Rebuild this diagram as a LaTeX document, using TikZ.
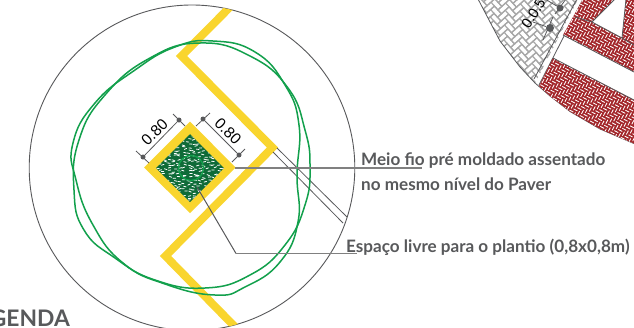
\documentclass[tikz,border=0pt]{standalone}
\usepackage{fontspec}
\setmainfont{Lato}
\newfontfamily\dimfont{Liberation Sans}
\definecolor{ink}{HTML}{58595B}
\definecolor{leader}{HTML}{808080}
\definecolor{curb}{HTML}{F9D52E}
\definecolor{leaf}{HTML}{12A04C}
\definecolor{soil}{HTML}{0F6B38}
\definecolor{brick}{HTML}{A3262A}
\definecolor{stone}{HTML}{A8A8A8}
\tikzset{
  outline/.style={draw=ink,line width=0.9pt},
  leaderline/.style={draw=leader,line width=1.4pt},
  leaderthin/.style={draw=ink,line width=1pt},
  yellowband/.style={draw=curb,line width=8pt,miter limit=10},
  canopy/.style={draw=leaf,line width=1.5pt},
  dimline/.style={draw=ink,line width=0.8pt},
  dimdot/.style={circle,fill=ink,inner sep=0pt,minimum size=5pt},
  dimtext/.style={font=\dimfont\fontsize{15.5}{15.5}\selectfont,inner sep=0pt,text=black},
  label/.style={font=\bfseries\fontsize{17.1}{17.1}\selectfont,text=ink,inner sep=0pt,anchor=base west},
  edge/.style={draw=ink,line width=0.8pt}
}
\begin{document}
\begin{tikzpicture}[x=1pt,y=-1pt]
\useasboundingbox (0,0) rectangle (634,327);
\clip (0,0) rectangle (634,327);
\fill[white] (0,0) rectangle (634,327);

% ---- paver detail, top right
\begin{scope}
  \clip (478,-1) -- (500,41) -- (520,67) -- (535,83) -- (578,-1) -- cycle;
  \begin{scope}[shift={(530,30)},rotate=42,x=5.2pt,y=5.2pt]
    \foreach \i in {-12,...,12}{\foreach \j in {-6,...,6}{
      \draw[stone,line width=1.2pt] ({\i+2*\j},{\i-2*\j}) rectangle ++(2,1)
        ({\i+2*\j+2},{\i-2*\j-1}) rectangle ++(1,2);
    }}
  \end{scope}
\end{scope}
\draw[edge] (478,-1) -- (500,41) -- (520,67) -- (535,83) -- (550,96) -- (570,111.5) -- (600,129) -- (634,143.6);
\draw[edge] (534,79) -- (577,-1);
\draw[edge] (539,85) -- (583,-1);

\begin{scope}
  \clip (539,86) -- (553,58) -- (634,100) -- (634,143.6) -- (600,129) -- (570,111.5) -- (550,96) -- cycle
        (583,-1) -- (563,35) -- (634,72) -- (634,-1) -- (626,-1) -- (622,38) -- (592,22) -- (615,-1) -- cycle;
  \fill[brick] (530,-5) rectangle (640,150);
  \begin{scope}[shift={(590,70)},rotate=-28,x=2.9pt,y=2.9pt]
    \foreach \i in {-32,...,32}{\foreach \j in {-16,...,16}{
      \draw[white,line width=.85pt] ({\i+2*\j+.25},{\i-2*\j+.5}) -- ++(1.5,0)
        ({\i+2*\j+2.5},{\i-2*\j-.75}) -- ++(0,1.5);
    }}
  \end{scope}
\end{scope}
\draw[edge] (553,58) -- (634,100);
\draw[edge] (563,35) -- (634,72);
\draw[edge] (575,17) -- (592,22) -- (615,-1);
\draw[edge] (592,22) -- (622,38) -- (626,-1);
\draw[edge] (622,38) -- (634,45);

\node[dimdot,minimum size=8pt] (pd1) at (550,28) {};
\node[dimdot,minimum size=7pt] (pd2) at (560,8) {};
\coordinate (pa) at (533,22);
\coordinate (pb) at (545,-1);
\coordinate (pc) at (543,40);
\coordinate (pd) at (553,17);
\coordinate (pe) at (555,14);
\coordinate (pf) at (566,-1);
\draw[dimline] (pa) -- (pd1);
\draw[dimline] (pb) -- (pd2);
\draw[dimline] (pc) -- (pd);
\draw[dimline] (pe) -- (pf);
\node[dimtext,font=\dimfont\fontsize{14.5}{14.5}\selectfont,rotate=58,anchor=base west] (ptext) at (529,30) {0.0.5};

% ---- main circle
\draw[outline] (192,167.8) circle [radius=162.8pt];

% ---- yellow curb
\begin{scope}
  \clip (192,167.8) circle [radius=162.8pt];
  \draw[yellowband] (234,3) -- (181.5,56) -- (272.5,147.5) -- (165.5,256) -- (242,334);
\end{scope}

% ---- meio fio lines
\coordinate (mfa1) at (277,148);
\coordinate (mfa2) at (347,217);
\coordinate (mfb1) at (273,152);
\coordinate (mfb2) at (343,223);
\draw[edge] (mfa1) -- (mfa2);
\draw[edge] (mfb1) -- (mfb2);

% ---- planting square
\fill[curb] (190,121.5) -- (235.5,167.5) -- (190,213) -- (144,167.5) -- cycle;
\begin{scope}
  \clip (190,134) -- (224,168) -- (190,202) -- (156,168) -- cycle;
  \fill[soil] (150,130) rectangle (230,206);
  \pgfmathsetseed{7}
  \foreach \yy in {134,137,...,202}{\foreach \xx in {156,161,...,224}{
    \pgfmathsetmacro{\dxx}{rnd*4}
    \pgfmathsetmacro{\dyy}{rnd*2.5}
    \pgfmathsetmacro{\ang}{-25+rnd*50}
    \draw[white,line width=0.8pt,line cap=round] ({\xx+\dxx},{\yy+\dyy}) -- ++(\ang:2.6);
  }}
\end{scope}
\draw[leaf,line width=1.3pt] (191,168) circle [radius=12.5pt];

% ---- canopies
\draw[canopy] plot[smooth cycle,tension=.8] coordinates {
 (200,43) (250,56) (288,88) (305,130) (310,167) (305,205) (285,245) (250,275) (205,288) (155,280) (115,258) (84,230) (74,190) (79,140) (105,95) (150,58)};
\draw[canopy] plot[smooth cycle,tension=.8] coordinates {
 (213,41) (255,52) (285,85) (299,125) (297,175) (298,222) (280,262) (245,287) (215,295) (165,284) (123,263) (93,225) (76,180) (73,143) (95,103) (135,70) (175,47)};

% ---- dimensions
\node[dimdot] (d1) at (143,157) {};
\node[dimdot] (d2) at (179,120) {};
\node[dimdot] (d3) at (203,119) {};
\node[dimdot] (d4) at (239,155) {};
\coordinate (t1a) at (136,151); \coordinate (t1b) at (149,163);
\coordinate (t2a) at (173,114); \coordinate (t2b) at (185,126);
\coordinate (t3a) at (196,126); \coordinate (t3b) at (210,113);
\coordinate (t4a) at (232,162); \coordinate (t4b) at (245,149);
\draw[dimline] (d1) -- (d2);
\draw[dimline] (d3) -- (d4);
\draw[dimline] (t1a) -- (t1b);
\draw[dimline] (t2a) -- (t2b);
\draw[dimline] (t3a) -- (t3b);
\draw[dimline] (t4a) -- (t4b);
\node[dimtext,rotate=45] (dl) at (154.5,132) {0.80};
\node[dimtext,rotate=-45] (dr) at (228,131) {0.80};

% ---- labels and leaders
\node[label] (meio) at (361,165) {Meio fio pré moldado assentado};
\node[label] (meio2) at (361,190) {no mesmo nível do Paver};
\node[label] (esp) at (346,252.5) {Espaço livre para o plantio (0,8x0,8m)};
\node[font=\bfseries\fontsize{22.8}{22.8}\selectfont,text=ink,inner sep=0pt,anchor=base east] (leg) at (70,326) {LEGENDA};
\coordinate (m0) at (235,168);
\coordinate (m1) at (422,168);
\draw[leaderline] (m0) -- (m1);
\coordinate (e0) at (197,187);
\coordinate (e1) at (236,253.5);
\coordinate (e2) at (357,253.5);
\draw[leaderthin] (e0) -- (e1);
\draw[leaderline] (e1) -- (e2);
\end{tikzpicture}
\end{document}
